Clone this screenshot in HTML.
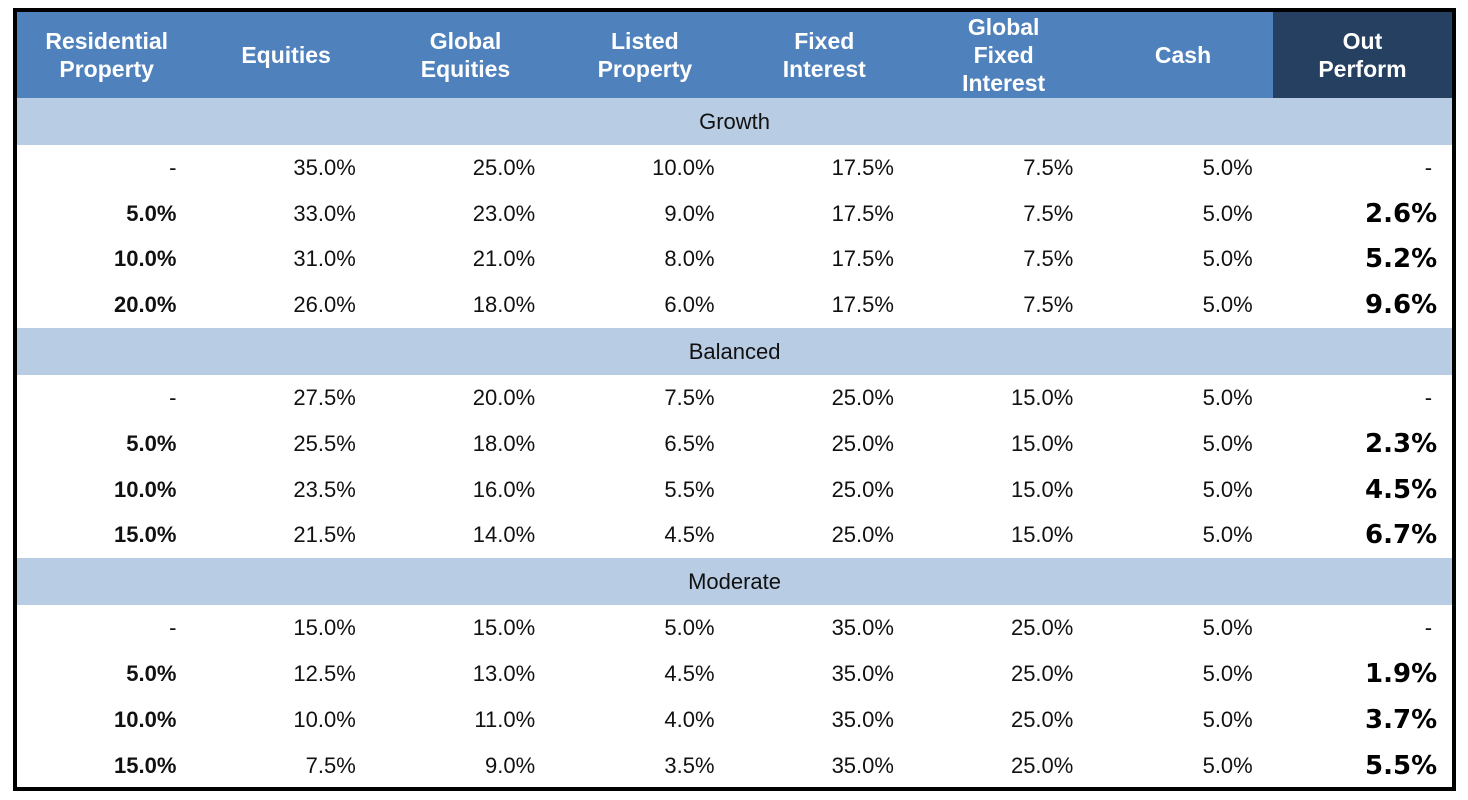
<!DOCTYPE html>
<html><head><meta charset="utf-8">
<style>
html,body{margin:0;padding:0;background:#fff;width:1468px;height:800px;overflow:hidden}
#frame{position:absolute;left:13px;top:8px;width:1435px;height:775px;border:4px solid #000;}
table{border-collapse:collapse;table-layout:fixed;width:1435px;font-family:"Liberation Sans",Arial,sans-serif}
col{width:179.4px}
th{background:#4F81BD;color:#fff;font-size:23px;font-weight:bold;line-height:28px;height:86px;padding:0;text-align:center}
th.dark{background:#254061}
tr.band td{background:#B8CCE4;height:47px;text-align:center;font-size:22px;color:#111;padding:0}
td{height:45.8px;padding:0 20px 0 0;text-align:right;font-size:22px;color:#111}
td.b{font-weight:bold}
td.op{font-family:"DejaVu Sans","Liberation Sans",sans-serif;font-weight:bold;font-size:26px;padding-right:15px;color:#000}
</style></head><body>
<div id="frame">
<table>
<colgroup><col><col><col><col><col><col><col><col></colgroup>
<thead><tr>
<th>Residential<br>Property</th>
<th>Equities</th>
<th>Global<br>Equities</th>
<th>Listed<br>Property</th>
<th>Fixed<br>Interest</th>
<th>Global<br>Fixed<br>Interest</th>
<th>Cash</th>
<th class="dark">Out<br>Perform</th>
</tr></thead>
<tbody id="tb"></tbody>
</table>
</div>
<script>
const groups = ["Growth","Balanced","Moderate"];
const resProp = [["-","5.0%","10.0%","20.0%"],["-","5.0%","10.0%","15.0%"],["-","5.0%","10.0%","15.0%"]];
const equities = [["35.0%","33.0%","31.0%","26.0%"],["27.5%","25.5%","23.5%","21.5%"],["15.0%","12.5%","10.0%","7.5%"]];
const globalEq = [["25.0%","23.0%","21.0%","18.0%"],["20.0%","18.0%","16.0%","14.0%"],["15.0%","13.0%","11.0%","9.0%"]];
const listedProp = [["10.0%","9.0%","8.0%","6.0%"],["7.5%","6.5%","5.5%","4.5%"],["5.0%","4.5%","4.0%","3.5%"]];
const fixedInt = [["17.5%","17.5%","17.5%","17.5%"],["25.0%","25.0%","25.0%","25.0%"],["35.0%","35.0%","35.0%","35.0%"]];
const globalFixed = [["7.5%","7.5%","7.5%","7.5%"],["15.0%","15.0%","15.0%","15.0%"],["25.0%","25.0%","25.0%","25.0%"]];
const cash = [["5.0%","5.0%","5.0%","5.0%"],["5.0%","5.0%","5.0%","5.0%"],["5.0%","5.0%","5.0%","5.0%"]];
const outPerform = [["-","2.6%","5.2%","9.6%"],["-","2.3%","4.5%","6.7%"],["-","1.9%","3.7%","5.5%"]];
const tb = document.getElementById('tb');
groups.forEach((g, gi) => {
  const br = document.createElement('tr');
  br.className = 'band';
  
  
  const bc = document.createElement('td');
  bc.colSpan = 8;
  bc.textContent = g;
  
  
  br.appendChild(bc);
  tb.appendChild(br);
  for (let r = 0; r < 4; r++) {
    const tr = document.createElement('tr');
    
    
    const vals = [resProp, equities, globalEq, listedProp, fixedInt, globalFixed, cash, outPerform].map(a => a[gi][r]);
    vals.forEach((v, ci) => {
      const td = document.createElement('td');
      td.textContent = v;
      if (ci === 0 && v !== '-') td.className = 'b';
      if (ci === 7 && v !== '-') td.className = 'op';
      
      
      tr.appendChild(td);
    });
    tb.appendChild(tr);
  }
});
</script>
</body></html>
